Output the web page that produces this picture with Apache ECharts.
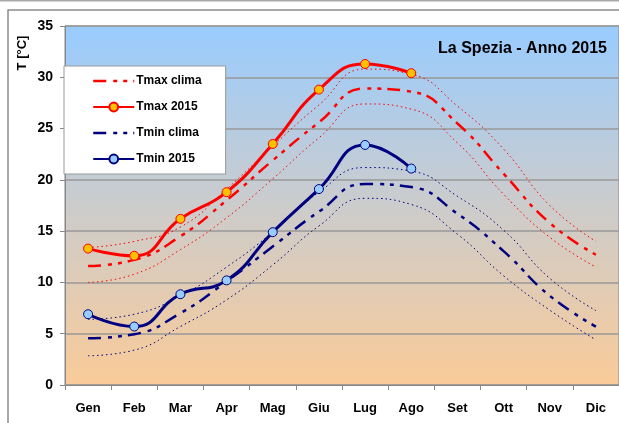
<!DOCTYPE html>
<html>
<head>
<meta charset="utf-8">
<script src="https://cdn.jsdelivr.net/npm/echarts@6/dist/echarts.min.js"></script>
<style>
html,body{margin:0;padding:0;background:#fff;}
#chart{width:619px;height:423px;}
</style>
</head>
<body>
<div id="chart"></div>
<script>
const months = ['Gen','Feb','Mar','Apr','Mag','Giu','Lug','Ago','Set','Ott','Nov','Dic'];
const tmaxClima     = [11.6, 12.2, 14.5, 18.0, 21.9, 25.6, 28.9, 28.6, 25.5, 20.6, 15.8, 12.7];
const tmaxClimaHigh = [13.4, 14.0, 15.4, 19.1, 23.3, 27.3, 30.8, 30.3, 27.2, 23.0, 17.5, 14.0];
const tmaxClimaLow  = [10.0, 10.8, 13.2, 16.3, 20.1, 24.1, 27.4, 26.9, 23.6, 18.6, 14.4, 11.5];
const tmax2015      = [13.3, 12.6, 16.2, 18.8, 23.5, 28.8, 31.3, 30.4];
const tminClima     = [4.55, 4.95, 7.0, 10.1, 13.5, 16.9, 19.6, 19.3, 16.7, 13.05, 8.7, 5.7];
const tminClimaHigh = [6.4, 6.9, 8.7, 11.5, 14.9, 18.8, 21.2, 20.85, 18.4, 15.1, 10.4, 7.25];
const tminClimaLow  = [2.85, 3.4, 5.7, 8.3, 11.7, 15.5, 18.2, 17.6, 14.7, 10.65, 7.3, 4.4];
const tmin2015      = [6.9, 5.7, 8.85, 10.2, 14.9, 19.1, 23.4, 21.1];
const yMin = 0, yMax = 35, yStep = 5;
const titleText = 'La Spezia - Anno 2015';
const yName = 'T [°C]';

const FONT = "'Liberation Sans', Arial, sans-serif";
const RED = '#FF0000', NAVY = '#000080';
const climaDash = [13, 7, 4, 6, 4, 6];
const dotDash = [1.5, 3];

const chart = echarts.init(document.getElementById('chart'), null, {renderer: 'canvas'});

function dotted(name, data, color) {
  return {name, type: 'line', data, smooth: 0.5, symbol: 'none', silent: true,
    lineStyle: {color, width: 1, type: dotDash}, z: 2};
}
function clima(name, data, color) {
  return {name, type: 'line', data, smooth: 0.5, symbol: 'none',
    lineStyle: {color, width: 2.5, type: climaDash}, itemStyle: {color}, z: 3};
}
function obs(name, data, color, fill) {
  return {name, type: 'line', data, smooth: 0.5, symbol: 'circle', symbolSize: 9,
    lineStyle: {color, width: 3}, itemStyle: {color: fill, borderColor: color, borderWidth: 1}, z: 5};
}

chart.setOption({
  animation: false,
  textStyle: {fontFamily: FONT},
  grid: {
    left: 65, top: 26, width: 556, height: 359,
    show: true, borderColor: '#888', borderWidth: 1,
    backgroundColor: {type: 'linear', x: 0, y: 0, x2: 0, y2: 1,
      colorStops: [{offset: 0, color: '#99CCFF'}, {offset: 0.5, color: '#CCCCCC'}, {offset: 1, color: '#FACB98'}]}
  },
  legend: {
    data: [
      {name: 'Tmax clima', itemStyle: {opacity: 0}, lineStyle: {type: climaDash, width: 2.5, color: RED}},
      {name: 'Tmax 2015'},
      {name: 'Tmin clima', itemStyle: {opacity: 0}, lineStyle: {type: climaDash, width: 2.5, color: NAVY}},
      {name: 'Tmin 2015'}
    ],
    orient: 'vertical', left: 64, top: 66,
    padding: [9, 24, 9, 28],
    itemWidth: 41, itemHeight: 11, itemGap: 14,
    backgroundColor: '#fff', borderColor: '#999', borderWidth: 1,
    textStyle: {fontFamily: FONT, fontWeight: 'bold', fontSize: 12, color: '#000', padding: [0, 0, 0, -3]}
  },
  xAxis: {
    type: 'category', data: months, boundaryGap: true,
    axisLine: {lineStyle: {color: '#888', width: 1}},
    axisTick: {show: true, length: 5, lineStyle: {color: '#888'}},
    axisLabel: {fontFamily: FONT, fontWeight: 'bold', fontSize: 13, color: '#000', margin: 17}
  },
  yAxis: {
    type: 'value', min: yMin, max: yMax, interval: yStep,
    axisLine: {show: true, lineStyle: {color: '#888'}},
    axisTick: {show: true, length: 5, lineStyle: {color: '#888'}},
    axisLabel: {fontFamily: FONT, fontWeight: 'bold', fontSize: 14, color: '#000', margin: 12},
    splitLine: {lineStyle: {color: '#999', width: 1.5}}
  },
  graphic: [
    {type: 'line', shape: {x1: 0, y1: 0.5, x2: 619, y2: 0.5}, style: {stroke: '#A8A8A8', lineWidth: 2}, silent: true},
    {type: 'rect', shape: {x: 8, y: 10, width: 640, height: 440}, style: {fill: null, stroke: '#8C8C8C', lineWidth: 1.5}, silent: true, z: -1},
    {type: 'text', x: 607, y: 49, style: {text: titleText, font: 'bold 16px ' + FONT, fill: '#000', textAlign: 'right', textVerticalAlign: 'middle'}, z: 10},
    {type: 'text', x: 22, y: 53, rotation: Math.PI / 2, style: {text: yName, font: 'bold 13px ' + FONT, fill: '#000', textAlign: 'center', textVerticalAlign: 'middle'}, z: 10}
  ],
  series: [
    dotted('Tmax high', tmaxClimaHigh, RED),
    dotted('Tmax low', tmaxClimaLow, RED),
    dotted('Tmin high', tminClimaHigh, NAVY),
    dotted('Tmin low', tminClimaLow, NAVY),
    clima('Tmax clima', tmaxClima, RED),
    clima('Tmin clima', tminClima, NAVY),
    obs('Tmax 2015', tmax2015, RED, '#FFC000'),
    obs('Tmin 2015', tmin2015, NAVY, '#99CCFF')
  ]
});
</script>
</body>
</html>
